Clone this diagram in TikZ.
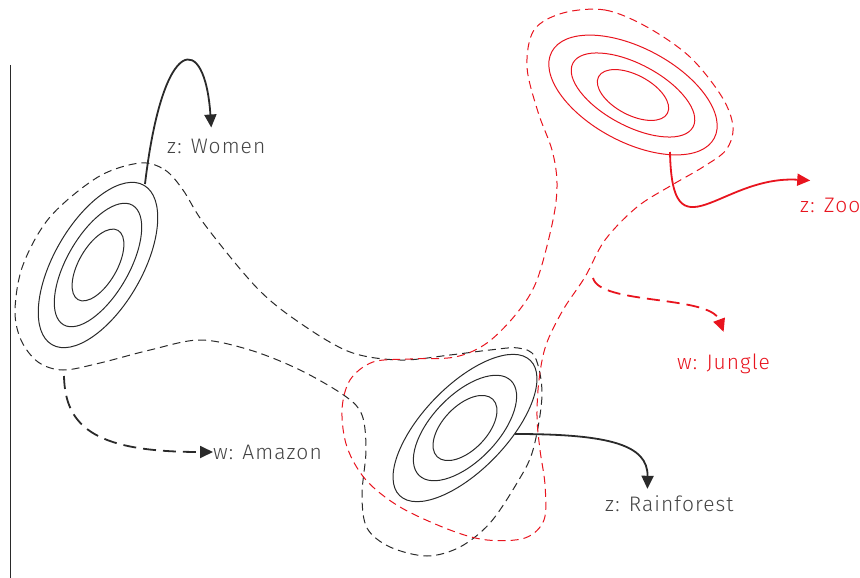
\documentclass[tikz,border=0pt]{standalone}
\usepackage{fontspec}
\setmainfont{Fira Sans}[UprightFont=* Light, LetterSpace=5]
\usepackage{xcolor}
\usepackage{tikz}
\usetikzlibrary{arrows.meta}
\pgfdeclarelayer{nodelayer}
\pgfdeclarelayer{edgelayer}
\pgfsetlayers{nodelayer,edgelayer,main}
\definecolor{inkgrey}{HTML}{2A2A2A}
\definecolor{txtgrey}{HTML}{444444}
\definecolor{zred}{HTML}{E8141E}
\tikzset{
    none/.style = {inner sep=0pt},
    tag/.style = {inner sep=0pt, font=\fontsize{21}{24}\selectfont, text=txtgrey},
    red tag/.style = {tag, text=zred},
    ring/.style = {draw=inkgrey, line width=1pt},
    red ring/.style = {draw=zred, line width=1pt},
    hull/.style = {draw=inkgrey, line width=1pt, dash pattern=on 8pt off 5pt},
    red hull/.style = {draw=zred, line width=1pt, dash pattern=on 8pt off 5pt},
    pointer/.style = {line width=1.8pt, -{Triangle[length=13pt, width=12pt]}},
    dashed pointer/.style = {pointer, dash pattern=on 13pt off 7pt}
}

\begin{document}
\begin{tikzpicture}[x=1pt, y=-1pt]
  \useasboundingbox (0,0) rectangle (860,578);
  \begin{pgfonlayer}{nodelayer}
    \coordinate (c1) at (98,265);
    \coordinate (c2) at (465,428);
    \coordinate (c3) at (633,95);
    \coordinate (5) at (145,184);
    \coordinate (6) at (64,376);
    \coordinate (7) at (515,434);
    \coordinate (8) at (670,152);
    \coordinate (9) at (593,278);
    \node [tag, anchor=west] (0) at (167,146) {z: Women};
    \node [tag, anchor=west] (1) at (213,452) {w: Amazon};
    \node [tag, anchor=west] (2) at (605,504) {z: Rainforest};
    \node [red tag, anchor=west] (3) at (800,205) {z: Zoo};
    \node [red tag, anchor=west] (4) at (677,364) {w: Jungle};
  \end{pgfonlayer}
  \begin{pgfonlayer}{edgelayer}
    % axis
    \draw [draw=inkgrey, line width=1pt] (10,65) -- (10,578);
    % black clusters
    \draw [ring] (c1) circle [x radius=92pt, y radius=44pt, rotate=60];
    \draw [ring] (c1) circle [x radius=69pt, y radius=31pt, rotate=60];
    \draw [ring] (c1) circle [x radius=40pt, y radius=19pt, rotate=60];
    \draw [ring] (c2) circle [x radius=94pt, y radius=42pt, rotate=46];
    \draw [ring] (c2) circle [x radius=66pt, y radius=33pt, rotate=46];
    \draw [ring] (c2) circle [x radius=40pt, y radius=22pt, rotate=46];
    % red cluster
    \draw [red ring] (c3) circle [x radius=92pt, y radius=47pt, rotate=-28];
    \draw [red ring] (c3) circle [x radius=68pt, y radius=31pt, rotate=-28];
    \draw [red ring] (c3) circle [x radius=39pt, y radius=20pt, rotate=-28];
    % dashed hulls
    \draw [hull] plot [smooth cycle, tension=0.55] coordinates {
      (140,163) (165,170) (183,190) (205,225) (257,288) (300,323) (350,352)
      (400,360) (450,355) (490,350) (518,348) (535,357) (542,395) (533,450)
      (517,483) (490,523) (460,547) (427,556) (390,547) (367,528) (362,495)
      (366,450) (362,415) (345,396) (300,370) (250,350) (200,340) (150,350)
      (100,363) (63,370) (38,362) (21,340) (15,310) (23,265) (50,217) (98,177)};
    \draw [red hull] plot [smooth cycle, tension=0.55] coordinates {
      (563,13) (605,10) (647,27) (690,57) (722,97) (733,127) (726,150) (703,167)
      (672,185) (637,207) (605,240) (585,277) (563,310) (546,345) (539,380)
      (537,417) (540,450) (545,485) (544,520) (525,538) (487,540) (450,530)
      (400,507) (366,480) (347,447) (342,410) (350,380) (373,362) (410,359)
      (455,357) (487,343) (517,313) (537,280) (553,220) (557,183) (552,150)
      (538,112) (527,67) (534,30)};
    % pointers
    \draw [pointer, inkgrey] (5) .. controls (163,32) and (205,32) .. ([xshift=-5pt, yshift=11pt]0.north);
    \draw [dashed pointer, inkgrey] (6) .. controls (65,430) and (100,452) .. (1.west);
    \draw [pointer, inkgrey] (7) .. controls (610,434) and (648,445) .. ([xshift=-22pt, yshift=7pt]2.north);
    \draw [pointer, zred] (8) .. controls (672,260) and (720,175) .. ([xshift=-20pt, yshift=17pt]3.north);
    \draw [dashed pointer, zred] (9) .. controls (600,305) and (710,295) .. ([yshift=22pt]4.north);
  \end{pgfonlayer}
\end{tikzpicture}
\end{document}
